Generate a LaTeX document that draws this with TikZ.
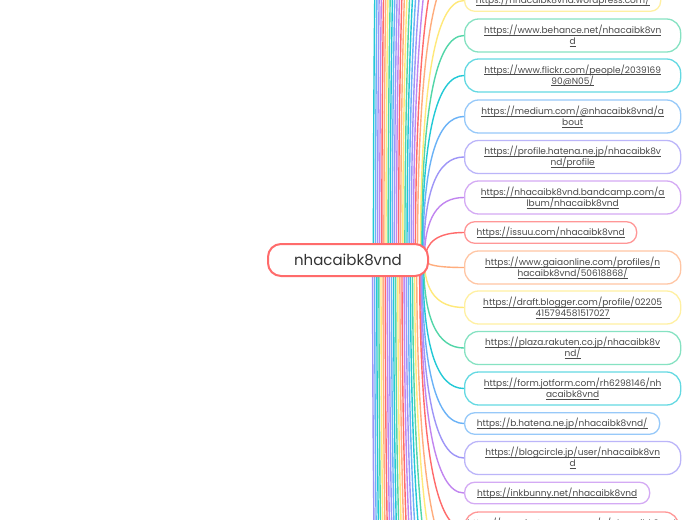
\documentclass[tikz,border=0pt]{standalone}
\usepackage{fontspec}
\setmainfont{Poppins}
\definecolor{c0}{HTML}{FF6B6B}
\definecolor{c1}{HTML}{FFAD7D}
\definecolor{c2}{HTML}{FFE97A}
\definecolor{c3}{HTML}{52D6A8}
\definecolor{c4}{HTML}{22C9D6}
\definecolor{c5}{HTML}{6AB2F7}
\definecolor{c6}{HTML}{9E95F7}
\definecolor{c7}{HTML}{C185F0}
\definecolor{txt}{HTML}{4A4A4A}
\definecolor{dark}{HTML}{333333}
\newcommand\lnk[1]{\leavevmode\setbox0\hbox{#1}\rlap{\rule[-1.6pt]{\wd0}{0.5pt}}\box0}
\pgfdeclarelayer{bg}
\pgfdeclarelayer{lines}
\pgfsetlayers{bg,lines,main}
\begin{document}
\begin{tikzpicture}[x=1pt,y=-1pt,
  br/.style={line width=1.4pt, line cap=round},
  leaf/.style={draw, line width=1.3pt, fill=white, anchor=west, inner sep=0pt, align=center, text=txt, font=\fontsize{9}{11}\selectfont},
  one/.style={leaf, minimum height=21.5pt, rounded corners=10pt},
  two/.style={leaf, minimum height=33pt, rounded corners=14pt, text width=216pt}]
\useasboundingbox (0,0) rectangle (697,520);
\clip (0,0) rectangle (697,520);
\begin{pgfonlayer}{bg}
\fill[white] (0,0) rectangle (697,520);
\end{pgfonlayer}

% root
\node[draw=c0, line width=2pt, fill=white, rounded corners=13pt, minimum width=160pt, minimum height=32pt, inner sep=0pt, font=\fontsize{15}{18}\selectfont, text=dark] (root) at (348,260) {nhacaibk8vnd};

% children
\node[one, draw=c2!70!white, text width=196pt] (wordpress) at (464,0.5) {\lnk{https://nhacaibk8vnd.wordpress.com/}};
\node[two, draw=c3!70!white] (behance) at (464,35.5) {\lnk{https://www.behance.net/nhacaibk8vn}\\\lnk{d}};
\node[two, draw=c4!70!white] (flickr) at (464,75.5) {\lnk{https://www.flickr.com/people/2039169}\\\lnk{90@N05/}};
\node[two, draw=c5!70!white] (medium) at (464,116.5) {\lnk{https://medium.com/@nhacaibk8vnd/a}\\\lnk{bout}};
\node[two, draw=c6!70!white] (hatena) at (464,157) {\lnk{https://profile.hatena.ne.jp/nhacaibk8v}\\\lnk{nd/profile}};
\node[two, draw=c7!70!white] (bandcamp) at (464,197.5) {\lnk{https://nhacaibk8vnd.bandcamp.com/a}\\\lnk{lbum/nhacaibk8vnd}};
\node[one, draw=c0!70!white, text width=172pt] (issuu) at (464,232.5) {\lnk{https://issuu.com/nhacaibk8vnd}};
\node[two, draw=c1!70!white] (gaia) at (464,267.5) {\lnk{https://www.gaiaonline.com/profiles/n}\\\lnk{hacaibk8vnd/50618868/}};
\node[two, draw=c2!70!white] (blogger) at (464,307.5) {\lnk{https://draft.blogger.com/profile/02205}\\\lnk{415794581517027}};
\node[two, draw=c3!70!white] (plaza) at (464,348) {\lnk{https://plaza.rakuten.co.jp/nhacaibk8v}\\\lnk{nd/}};
\node[two, draw=c4!70!white] (jotform) at (464,388.5) {\lnk{https://form.jotform.com/rh6298146/nh}\\\lnk{acaibk8vnd}};
\node[one, draw=c5!70!white, text width=195pt] (bhatena) at (464,423.5) {\lnk{https://b.hatena.ne.jp/nhacaibk8vnd/}};
\node[two, draw=c6!70!white] (blogcircle) at (464,458) {\lnk{https://blogcircle.jp/user/nhacaibk8vn}\\\lnk{d}};
\node[one, draw=c7!70!white, text width=185pt] (inkbunny) at (464,493) {\lnk{https://inkbunny.net/nhacaibk8vnd}};
\node[two, draw=c0!70!white, text width=214pt] (last) at (464,528.5) {\lnk{https://www.instapaper.com/p/nhacaibk8vnd}\\\lnk{}};

\begin{pgfonlayer}{lines}
% far branches (nodes outside the view)
\foreach \j in {1,...,22}{
  \pgfmathsetmacro\ya{0.5-40*\j}
  \pgfmathsetmacro\sa{419.6-2.1*\j}
  \pgfmathsetmacro\dya{2/3*(\ya-260)}
  \pgfmathsetmacro\dxa{-2/3*(464-\sa)}
  \pgfmathtruncatemacro\ca{mod(82-\j,8)}
  \coordinate (fa\j) at (\sa,260);
  \coordinate (ea\j) at (464,\ya);
  \draw[br,c\ca] (fa\j) .. controls +(0,\dya) and +(\dxa,0) .. (ea\j);
  \pgfmathsetmacro\yb{528.5+40*\j}
  \pgfmathsetmacro\sb{418.8-2.1*\j}
  \pgfmathsetmacro\dyb{2/3*(\yb-260)}
  \pgfmathsetmacro\dxb{-2/3*(464-\sb)}
  \pgfmathtruncatemacro\cb{mod(\j,8)}
  \coordinate (fb\j) at (\sb,260);
  \coordinate (eb\j) at (464,\yb);
  \draw[br,c\cb] (fb\j) .. controls +(0,\dyb) and +(\dxb,0) .. (eb\j);
}
% visible branches
\coordinate (u1) at (425.2,260);
\coordinate (u2) at (424.4,260);
\coordinate (u3) at (423.6,260);
\coordinate (u4) at (422.8,260);
\coordinate (u5) at (422,260);
\coordinate (u6) at (421.2,260);
\coordinate (u7) at (420.4,260);
\coordinate (d8) at (419.6,260);
\draw[br,c0] (u1) .. controls +(0,-18.3) and +(-25.9,0) .. (issuu.west);
\draw[br,c7] (u2) .. controls +(0,-41.7) and +(-26.4,0) .. (bandcamp.west);
\draw[br,c6] (u3) .. controls +(0,-68.7) and +(-26.9,0) .. (hatena.west);
\draw[br,c5] (u4) .. controls +(0,-95.7) and +(-27.5,0) .. (medium.west);
\draw[br,c4] (u5) .. controls +(0,-123) and +(-28,0) .. (flickr.west);
\draw[br,c3] (u6) .. controls +(0,-149.7) and +(-28.5,0) .. (behance.west);
\draw[br,c2] (u7) .. controls +(0,-173) and +(-29.1,0) .. (wordpress.west);
\draw[br,c1] (u1) .. controls +(0,5) and +(-25.9,0) .. (gaia.west);
\draw[br,c2] (u2) .. controls +(0,31.7) and +(-26.4,0) .. (blogger.west);
\draw[br,c3] (u3) .. controls +(0,58.7) and +(-26.9,0) .. (plaza.west);
\draw[br,c4] (u4) .. controls +(0,85.7) and +(-27.5,0) .. (jotform.west);
\draw[br,c5] (u5) .. controls +(0,109) and +(-28,0) .. (bhatena.west);
\draw[br,c6] (u6) .. controls +(0,132) and +(-28.5,0) .. (blogcircle.west);
\draw[br,c7] (u7) .. controls +(0,155.3) and +(-29.1,0) .. (inkbunny.west);
\draw[br,c0] (d8) .. controls +(0,179) and +(-29.6,0) .. (last.west);
\end{pgfonlayer}
\end{tikzpicture}
\end{document}
